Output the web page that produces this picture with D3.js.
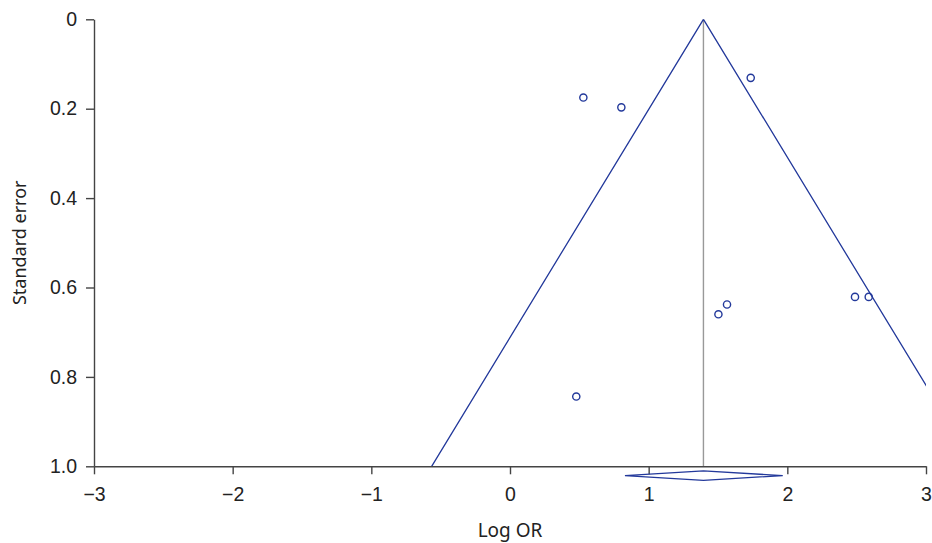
<!DOCTYPE html>
<html>
<head>
<meta charset="utf-8">
<script src="https://cdn.jsdelivr.net/npm/d3@7"></script>
<style>
  body { margin: 0; background: #fff; }
  svg { display: block; }
</style>
</head>
<body>
<svg></svg>
<script>
// study estimates
var logOR = [0.529, 0.803, 1.736, 1.565, 1.503, 2.488, 2.587, 0.478];
var stdErr = [0.175, 0.197, 0.131, 0.638, 0.660, 0.621, 0.621, 0.844];

// pooled estimate and its confidence interval
var pooled = 1.395;
var pooledCI = [0.829, 1.967];

var xTicks = [-3, -2, -1, 0, 1, 2, 3];
var yTicks = [0, 0.2, 0.4, 0.6, 0.8, 1.0];
var yTickLabels = ["0", "0.2", "0.4", "0.6", "0.8", "1.0"];

var screen = { width: 932, height: 543 };
var margins = { top: 19.3, bottom: 76.7, left: 94, right: 6 };

var width = screen.width - margins.left - margins.right;
var height = screen.height - margins.top - margins.bottom;

var blue = "#23399b";
var axisColor = "#444";

var svg = d3.select("svg")
  .attr("width", screen.width)
  .attr("height", screen.height);

var xScale = d3.scaleLinear()
  .domain([-3, 3])
  .range([0, width]);

var yScale = d3.scaleLinear()
  .domain([0, 1])
  .range([0, height]);

var plot = svg.append("g")
  .attr("transform", "translate(" + margins.left + "," + margins.top + ")");

plot.append("clipPath")
  .attr("id", "clip")
  .append("rect")
  .attr("x", 0)
  .attr("y", 0)
  .attr("width", width)
  .attr("height", height);

// vertical line at the pooled estimate
plot.append("line")
  .attr("x1", xScale(pooled))
  .attr("x2", xScale(pooled))
  .attr("y1", yScale(0))
  .attr("y2", yScale(1))
  .attr("stroke", "#999")
  .attr("stroke-width", 1.4);

// pseudo 95% confidence limits
var funnel = [
  [pooled - 1.96 * 1, 1],
  [pooled, 0],
  [pooled + 1.96 * 1, 1]
];

plot.append("path")
  .datum(funnel)
  .attr("clip-path", "url(#clip)")
  .attr("fill", "none")
  .attr("stroke", blue)
  .attr("stroke-width", 1.3)
  .attr("d", d3.line()
    .x(function(d) { return xScale(d[0]); })
    .y(function(d) { return yScale(d[1]); }));

// axes
var xAxis = d3.axisBottom(xScale)
  .tickValues(xTicks)
  .tickFormat(d3.format("d"))
  .tickSize(8)
  .tickSizeOuter(0)
  .tickPadding(13);

var yAxis = d3.axisLeft(yScale)
  .tickValues(yTicks)
  .tickFormat(function(d, i) { return yTickLabels[i]; })
  .tickSize(8)
  .tickSizeOuter(0)
  .tickPadding(9);

var gx = plot.append("g")
  .attr("transform", "translate(0," + height + ")")
  .call(xAxis);

var gy = plot.append("g")
  .call(yAxis);

[gx, gy].forEach(function(g) {
  g.select(".domain").attr("stroke", axisColor).attr("stroke-width", 1.4);
  g.selectAll(".tick line").attr("stroke", axisColor).attr("stroke-width", 1.4);
  g.selectAll(".tick text")
    .attr("fill", "#222")
    .style("font-family", "'Liberation Sans', Arial, sans-serif")
    .style("font-size", "19.5px");
});

// pooled diamond below the axis
var dy = height + 9.3;
var dh = 4.7;
var diamond = [
  [pooledCI[0], 0],
  [pooled, -dh],
  [pooledCI[1], 0],
  [pooled, dh]
];

plot.append("path")
  .datum(diamond)
  .attr("fill", "none")
  .attr("stroke", blue)
  .attr("stroke-width", 1.3)
  .attr("d", d3.line()
    .x(function(d) { return xScale(d[0]); })
    .y(function(d) { return dy + d[1]; })
    .curve(d3.curveLinearClosed));

// studies
plot.selectAll("circle")
  .data(logOR)
  .enter()
  .append("circle")
  .attr("cx", function(d) { return xScale(d); })
  .attr("cy", function(d, i) { return yScale(stdErr[i]); })
  .attr("r", 3.6)
  .attr("fill", "none")
  .attr("stroke", blue)
  .attr("stroke-width", 1.4);

// axis titles
svg.append("text")
  .attr("x", margins.left + xScale(0))
  .attr("y", 537)
  .attr("text-anchor", "middle")
  .attr("fill", "#222")
  .style("font-family", "'Noto Sans', sans-serif")
  .style("font-size", "19px")
  .text("Log OR");

svg.append("text")
  .attr("transform", "translate(25.5," + (margins.top + height / 2) + ") rotate(-90)")
  .attr("text-anchor", "middle")
  .attr("fill", "#222")
  .style("font-family", "'Noto Sans', sans-serif")
  .style("font-size", "18px")
  .text("Standard error");
</script>
</body>
</html>
